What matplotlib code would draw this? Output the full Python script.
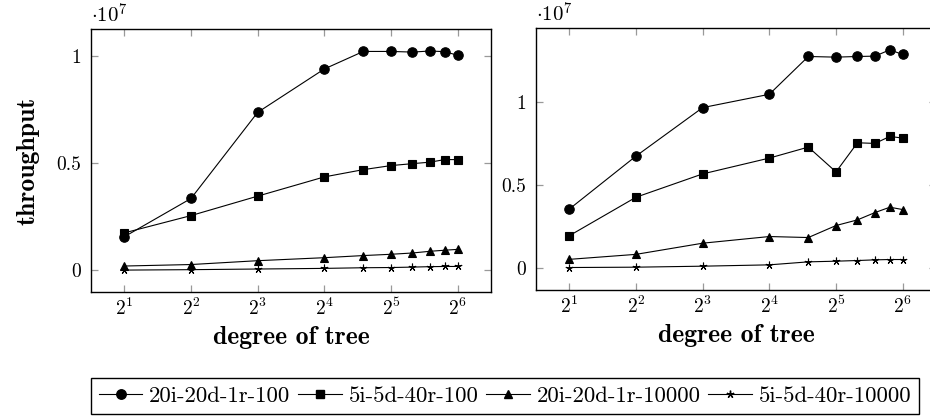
import matplotlib
matplotlib.use('Agg')
import matplotlib.pyplot as plt
from matplotlib.lines import Line2D

plt.rcParams['font.family'] = 'cmr10'
plt.rcParams['mathtext.fontset'] = 'cm'
plt.rcParams['axes.unicode_minus'] = False
plt.rcParams['axes.formatter.use_mathtext'] = True

# x values: degree of tree
degree = [2, 4, 8, 16, 24, 32, 40, 48, 56, 64]
x_tick_exps = [1, 2, 3, 4, 5, 6]
y_ticks = [0, 0.5, 1]
y_tick_labels = ['0', '0.5', '1']

series_names = ['20i-20d-1r-100', '5i-5d-40r-100', '20i-20d-1r-10000', '5i-5d-40r-10000']

# throughput, in units of 1e7 (left panel)
left_20i_100 = [0.156, 0.335, 0.738, 0.941, 1.023, 1.023, 1.020, 1.025, 1.022, 1.005]
left_5i_100 = [0.174, 0.255, 0.346, 0.436, 0.470, 0.489, 0.498, 0.505, 0.517, 0.517]
left_20i_10000 = [0.019, 0.026, 0.044, 0.058, 0.068, 0.074, 0.080, 0.088, 0.093, 0.097]
left_5i_10000 = [0.000, 0.002, 0.005, 0.008, 0.011, 0.012, 0.014, 0.016, 0.017, 0.017]

# throughput, in units of 1e7 (right panel)
right_20i_100 = [0.355, 0.673, 0.964, 1.044, 1.271, 1.267, 1.271, 1.273, 1.311, 1.283]
right_5i_100 = [0.195, 0.426, 0.566, 0.661, 0.727, 0.578, 0.753, 0.749, 0.791, 0.781]
right_20i_10000 = [0.053, 0.083, 0.150, 0.190, 0.184, 0.256, 0.290, 0.334, 0.366, 0.352]
right_5i_10000 = [0.004, 0.006, 0.012, 0.020, 0.038, 0.042, 0.046, 0.050, 0.052, 0.052]

markers = ['o', 's', '^', (5, 2, 0)]
msizes = [6.8, 6.4, 5.8, 5.5]

fig = plt.figure(figsize=(9.3, 4.2), dpi=100)
ax_l = fig.add_axes([91 / 930, 1 - 292 / 420, 400 / 930, 263 / 420])
ax_r = fig.add_axes([536 / 930, 1 - 290 / 420, 400 / 930, 262 / 420])

panels = [
    (ax_l, [left_20i_100, left_5i_100, left_20i_10000, left_5i_10000], (-0.1025, 1.128)),
    (ax_r, [right_20i_100, right_5i_100, right_20i_10000, right_5i_10000], (-0.131, 1.442)),
]

for ax, series, ylim in panels:
    for vals, m, ms in zip(series, markers, msizes):
        ax.plot(degree, vals, color='black', lw=0.8, marker=m, markersize=ms,
                markeredgewidth=0.8, markerfacecolor='black')
    ax.set_xscale('log', base=2)
    ax.set_xlim(2 ** 0.5, 2 ** 6.5)
    ax.set_ylim(*ylim)
    ax.set_xticks([2 ** e for e in x_tick_exps])
    ax.set_xticklabels([r'$2^{%d}$' % e for e in x_tick_exps])
    ax.minorticks_off()
    ax.set_yticks(y_ticks)
    ax.set_yticklabels(y_tick_labels)
    ax.tick_params(direction='in', length=5, width=0.9, color='#999999',
                   top=True, right=True, labelsize=14)
    ax.tick_params(axis='x', pad=4)
    ax.tick_params(axis='y', pad=7)
    for sp in ax.spines.values():
        sp.set_linewidth(1.0)
    ax.text(0.0, 1.008, r'$\cdot 10^{7}$', transform=ax.transAxes,
            fontsize=15, ha='left', va='bottom')
    ax.set_xlabel('degree of tree', fontfamily='cmb10', fontsize=18.5, labelpad=5)

ax_l.set_ylabel('throughput', fontfamily='cmb10', fontsize=18.5, labelpad=12)

handles = [Line2D([], [], color='black', lw=0.8, marker=m, markersize=ms,
                  markerfacecolor='black') for m, ms in zip(markers, msizes)]
leg = fig.legend(handles, series_names, loc='upper left',
                 bbox_to_anchor=(91 / 930, 1 - 378 / 420), ncol=4, fontsize=16.4,
                 frameon=True, fancybox=False, edgecolor='black', framealpha=1,
                 handlelength=1.9, handletextpad=0.3, columnspacing=0.35,
                 borderpad=0.35, borderaxespad=0)
leg.get_frame().set_linewidth(1.0)

fig.savefig('out.png', dpi=100)
